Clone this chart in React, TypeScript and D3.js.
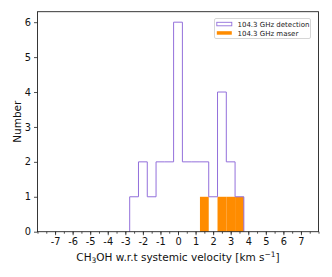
import React, { useEffect, useRef } from 'react';
import * as d3 from 'd3';

// histogram bins (0.5 km/s wide)
const binLeft = [-2.75, -2.25, -1.75, -1.25, -0.75, -0.25, 0.25, 0.75, 1.25, 1.75, 2.25, 2.75, 3.25];
const binWidth = 0.5;
const detectionCounts = [1, 2, 1, 2, 2, 6, 2, 2, 2, 1, 4, 2, 1];
const maserCounts = [0, 0, 0, 0, 0, 0, 0, 0, 1, 0, 1, 1, 1];
const xTicks = [-7, -6, -5, -4, -3, -2, -1, 0, 1, 2, 3, 4, 5, 6, 7];
const yTicks = [0, 1, 2, 3, 4, 5, 6];
const legendLabels = ['104.3 GHz detection', '104.3 GHz maser'];

const App: React.FC = () => {
  const svgRef = useRef<SVGSVGElement | null>(null);

  useEffect(() => {
    const w = 332;
    const h = 277;
    const m = { left: 37.5, right: 318.5, top: 11.7, bottom: 231.7 };
    const svg = d3.select(svgRef.current).attr('width', w).attr('height', h);
    svg.selectAll('*').remove();
    svg.append('rect').attr('width', w).attr('height', h).attr('fill', '#fff');

    const x = d3.scaleLinear().domain([-8, 8]).range([m.left, m.right]);
    const y = d3.scaleLinear().domain([0, 6.3]).range([m.bottom, m.top]);

    // maser bars
    svg.append('g')
      .selectAll('rect')
      .data(binLeft.map((b, i) => ({ b, c: maserCounts[i] })).filter((d) => d.c > 0))
      .join('rect')
      .attr('x', (d) => x(d.b))
      .attr('width', (d) => x(d.b + binWidth) - x(d.b))
      .attr('y', (d) => y(d.c))
      .attr('height', (d) => y(0) - y(d.c))
      .attr('fill', '#ff8c00');

    // detection step outline
    const pts: [number, number][] = [[binLeft[0], 0]];
    binLeft.forEach((b, i) => {
      pts.push([b, detectionCounts[i]]);
      pts.push([b + binWidth, detectionCounts[i]]);
    });
    pts.push([binLeft[binLeft.length - 1] + binWidth, 0]);
    const line = d3.line<[number, number]>().x((d) => x(d[0])).y((d) => y(d[1]));
    svg.append('path')
      .datum(pts)
      .attr('fill', 'none')
      .attr('stroke', '#9370db')
      .attr('stroke-width', 1)
      .attr('d', line);

    // axes
    const xAxis = d3.axisBottom(x).tickValues(xTicks).tickSize(3.5).tickPadding(2.5)
      .tickFormat((d) => (d as number) < 0 ? `-${Math.abs(d as number)}` : `${d}`);
    const xMinor = d3.axisBottom(x).tickValues(d3.range(-8, 8.01, 0.5)).tickSize(2).tickFormat(() => '');
    const yAxis = d3.axisLeft(y).tickValues(yTicks).tickSize(3.5).tickPadding(3)
      .tickFormat(d3.format('d'));

    const gxm = svg.append('g').attr('transform', `translate(0,${m.bottom})`).call(xMinor);
    const gx = svg.append('g').attr('transform', `translate(0,${m.bottom})`).call(xAxis);
    const gy = svg.append('g').attr('transform', `translate(${m.left},0)`).call(yAxis);
    [gx, gy, gxm].forEach((g) => {
      g.select('.domain').remove();
      g.selectAll('line').attr('stroke', '#222').attr('stroke-width', 0.8);
      g.selectAll('text').attr('font-family', 'DejaVu Sans').attr('font-size', 9.8).attr('fill', '#111');
    });

    svg.append('rect')
      .attr('x', m.left).attr('y', m.top)
      .attr('width', m.right - m.left).attr('height', m.bottom - m.top)
      .attr('fill', 'none').attr('stroke', '#222').attr('stroke-width', 0.9);

    // axis labels
    const xl = svg.append('text')
      .attr('x', (m.left + m.right) / 2).attr('y', 260.5)
      .attr('text-anchor', 'middle')
      .attr('font-family', 'DejaVu Sans').attr('font-size', 10.5).attr('fill', '#111');
    xl.append('tspan').text('CH');
    xl.append('tspan').attr('font-size', 7.5).attr('dy', 2.5).text('3');
    xl.append('tspan').attr('dy', -2.5).text('OH w.r.t systemic velocity [km s');
    xl.append('tspan').attr('font-size', 7.5).attr('dy', -4).text('\u22121');
    xl.append('tspan').attr('dy', 4).text(']');

    svg.append('text')
      .attr('transform', `translate(20.5,${(m.top + m.bottom) / 2}) rotate(-90)`)
      .attr('text-anchor', 'middle')
      .attr('font-family', 'DejaVu Sans').attr('font-size', 10.5).attr('fill', '#111')
      .text('Number');

    // legend
    const lg = svg.append('g');
    lg.append('rect')
      .attr('x', 214.5).attr('y', 18.5).attr('width', 96).attr('height', 20)
      .attr('rx', 1.5).attr('fill', '#fff').attr('stroke', '#ccc').attr('stroke-width', 0.8);
    lg.append('rect')
      .attr('x', 216.8).attr('y', 22.3).attr('width', 15).attr('height', 3.5)
      .attr('fill', 'none').attr('stroke', '#9370db').attr('stroke-width', 0.9);
    lg.append('rect')
      .attr('x', 216.8).attr('y', 31.2).attr('width', 15).attr('height', 3.5)
      .attr('fill', '#ff8c00');
    legendLabels.forEach((t, i) => {
      lg.append('text')
        .attr('x', 237.5).attr('y', 26.8 + i * 9.4)
        .attr('font-family', 'DejaVu Sans').attr('font-size', 7).attr('fill', '#222')
        .text(t);
    });
  }, []);

  return <svg ref={svgRef} style={{ position: 'absolute', left: 0, top: 0, display: 'block' }}></svg>;
};

export default App;
